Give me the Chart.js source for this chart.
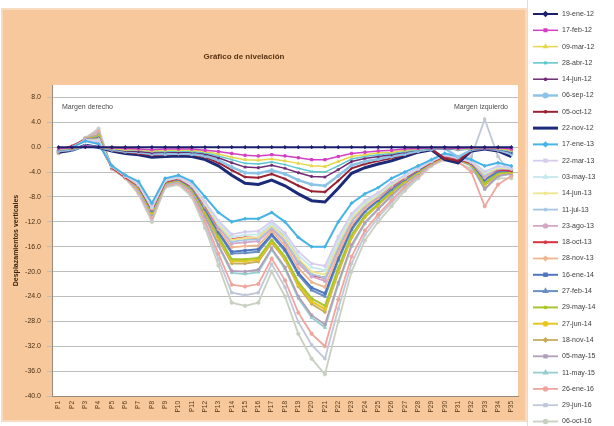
<!DOCTYPE html>
<html>
<head>
<meta charset="utf-8">
<title>Gráfico de nivelación</title>
<script src="https://cdn.jsdelivr.net/npm/chart.js@4.4.1/dist/chart.umd.min.js"></script>
<style>
  html, body { margin: 0; padding: 0; background: #fff; }
  #wrap { width: 614px; height: 426px; }
</style>
</head>
<body>
<div id="wrap"><canvas id="grafico" width="614" height="426"></canvas></div>
<script>
'use strict';

// puntos de nivelación (eje X)
let puntos = ['P1', 'P2', 'P3', 'P4', 'P5', 'P6', 'P7', 'P8', 'P9', 'P10',
  'P11', 'P12', 'P13', 'P14', 'P15', 'P16', 'P17', 'P18', 'P19', 'P20',
  'P21', 'P22', 'P23', 'P24', 'P25', 'P26', 'P27', 'P28', 'P29', 'P30',
  'P31', 'P32', 'P33', 'P34', 'P35'];

let fechas = ['19-ene-12', '17-feb-12', '09-mar-12', '28-abr-12', '14-jun-12', '06-sep-12',
  '05-oct-12', '22-nov-12', '17-ene-13', '22-mar-13', '03-may-13', '14-jun-13', '11-jul-13',
  '23-ago-13', '18-oct-13', '28-nov-13', '16-ene-14', '27-feb-14', '29-may-14', '27-jun-14',
  '18-nov-14', '05-may-15', '11-may-15', '26-ene-16', '29-jun-16', '06-oct-16'];

let yTicks = [8, 4, 0, -4, -8, -12, -16, -20, -24, -28, -32, -36, -40];

// lecturas en mm, una lista por campaña
let d19ene12 = [0, 0, 0, 0, 0, 0, 0, 0, 0, 0, 0, 0, 0, 0, 0, 0, 0, 0, 0, 0, 0, 0, 0, 0, 0, 0, 0, 0, 0, 0, 0, 0, 0, 0, 0];
let d17feb12 = [-0.2, -0.1, 0.1, 0, -0.1, -0.2, -0.3, -0.4, -0.3, -0.3, -0.3, -0.5, -0.7, -1, -1.3, -1.4, -1.2, -1.4, -1.7, -2, -2, -1.5, -1, -0.8, -0.6, -0.5, -0.3, -0.2, -0.1, -0.1, -0.2, -0.1, -0.1, -0.1, -0.3];
let d09mar12 = [-0.3, -0.2, 0.1, 0, -0.2, -0.4, -0.4, -0.6, -0.5, -0.5, -0.5, -0.7, -1.1, -1.6, -2, -2.1, -1.9, -2.2, -2.6, -3, -3.1, -2.3, -1.5, -1.2, -0.9, -0.8, -0.5, -0.3, -0.1, -0.1, -0.3, -0.2, -0.1, -0.2, -0.5];
let d28abr12 = [-0.4, -0.2, 0.1, 0, -0.3, -0.5, -0.5, -0.7, -0.7, -0.6, -0.7, -0.9, -1.4, -2, -2.6, -2.7, -2.4, -2.8, -3.4, -3.9, -4, -3, -1.9, -1.5, -1.2, -1, -0.7, -0.4, -0.2, -0.1, -0.4, -0.3, -0.1, -0.3, -0.7];
let d14jun12 = [-0.4, -0.3, 0.2, 0, -0.3, -0.6, -0.7, -0.9, -0.8, -0.8, -0.8, -1.1, -1.7, -2.5, -3.2, -3.3, -2.9, -3.4, -4.1, -4.7, -4.8, -3.6, -2.3, -1.8, -1.5, -1.2, -0.8, -0.4, -0.2, -0.2, -0.4, -0.3, -0.2, -0.3, -0.8];
let d06sep12 = [-0.6, -0.4, 0.2, 0, -0.4, -0.7, -0.8, -1.1, -1.1, -1, -1.1, -1.4, -2.1, -3.2, -4.1, -4.2, -3.7, -4.3, -5.3, -6, -6.2, -4.6, -2.9, -2.3, -1.9, -1.5, -1.1, -0.6, -0.3, -0.2, -1.6, -0.4, -0.2, -0.4, -1.1];
let d05oct12 = [-0.7, -0.4, 0.2, 0, -0.5, -0.8, -1, -1.3, -1.2, -1.1, -1.2, -1.6, -2.5, -3.7, -4.8, -4.9, -4.3, -5.1, -6.2, -7.1, -7.2, -5.4, -3.4, -2.7, -2.2, -1.8, -1.2, -0.7, -0.3, -1.8, -2.2, -0.5, -0.2, -0.5, -1.2];
let d22nov12 = [-0.8, -0.5, 0.3, 0, -0.6, -1, -1.2, -1.6, -1.5, -1.4, -1.5, -2, -3, -4.5, -5.8, -6, -5.3, -6.2, -7.5, -8.6, -8.8, -6.6, -4.2, -3.3, -2.7, -2.2, -1.5, -0.8, -0.4, -2, -2.5, -0.6, -0.3, -0.6, -1.5];
let d17ene13 = [-0.5, 0, 1, 0.5, -3, -4.5, -5.5, -9, -5, -4.5, -5.5, -8, -10.5, -12, -11.5, -11.5, -10.5, -12, -14.5, -16, -16, -12, -9, -7.5, -6.5, -5, -4, -3, -2, -1, -1.5, -2, -3, -2.5, -3];
let d22mar13 = [-0.6, 0, 1.1, 0.9, -3.1, -4.6, -5.8, -9.5, -5.2, -4.7, -5.9, -8.8, -11.8, -14, -13.6, -13.5, -11.9, -13.8, -16.8, -18.7, -19.1, -14.4, -10.7, -8.6, -7.3, -5.7, -4.5, -3.3, -2.2, -1.2, -1.7, -2.2, -3.9, -3, -3.3];
let d03may13 = [-0.6, 0, 1.1, 1, -3.1, -4.6, -5.9, -9.6, -5.3, -4.8, -6, -8.9, -12.1, -14.4, -14.1, -14, -12.3, -14.2, -17.4, -19.3, -19.8, -15, -11, -8.9, -7.5, -5.8, -4.6, -3.4, -2.2, -1.2, -1.7, -2.3, -4.1, -3.1, -3.4];
let d14jun13 = [-0.6, 0, 1.1, 1.1, -3.1, -4.6, -5.9, -9.7, -5.3, -4.8, -6.1, -9.1, -12.4, -14.9, -14.6, -14.5, -12.6, -14.6, -17.9, -20, -20.5, -15.5, -11.4, -9.2, -7.7, -6, -4.7, -3.4, -2.2, -1.2, -1.7, -2.3, -4.3, -3.3, -3.4];
let d11jul13 = [-0.6, 0, 1.1, 1.1, -3.1, -4.6, -6, -9.7, -5.4, -4.9, -6.1, -9.2, -12.6, -15.2, -14.9, -14.8, -12.8, -14.9, -18.3, -20.4, -21, -15.9, -11.7, -9.3, -7.8, -6.1, -4.7, -3.5, -2.2, -1.2, -1.7, -2.4, -4.5, -3.4, -3.5];
let d23ago13 = [-0.6, 0, 1.1, 1.2, -3.1, -4.6, -6.1, -9.8, -5.4, -4.9, -6.2, -9.3, -12.8, -15.5, -15.3, -15.1, -13.1, -15.2, -18.7, -20.8, -21.5, -16.3, -11.9, -9.5, -8, -6.2, -4.8, -3.5, -2.3, -1.3, -1.8, -2.4, -4.6, -3.4, -3.5];
let d18oct13 = [-0.5, 0.2, 1.2, 0.8, -3.3, -4.8, -6.2, -9.9, -5.6, -5, -6.3, -9.4, -12.9, -14.8, -14.5, -14.6, -12.5, -14.4, -18, -20.6, -21, -16.2, -11.8, -9.4, -7.9, -6.3, -4.9, -3.6, -2.4, -1.4, -1.9, -2.6, -4.4, -3.6, -3.8];
let d28nov13 = [-0.7, 0, 1.2, 1.3, -3.2, -4.7, -6.1, -10, -5.5, -5, -6.3, -9.6, -13.2, -16.1, -15.9, -15.8, -13.5, -15.8, -19.4, -21.7, -22.5, -17.1, -12.5, -9.9, -8.2, -6.4, -5, -3.6, -2.3, -1.3, -1.8, -2.5, -4.9, -3.6, -3.6];
let d16ene14 = [-0.7, 0, 1.2, 1.4, -3.2, -4.7, -6.2, -10.1, -5.5, -5.1, -6.4, -9.8, -13.6, -16.8, -16.6, -16.4, -14, -16.4, -20.2, -22.6, -23.5, -17.9, -13, -10.2, -8.5, -6.6, -5.1, -3.7, -2.4, -1.4, -1.9, -2.5, -5.2, -3.8, -3.7];
let d27feb14 = [-0.7, 0, 1.2, 1.5, -3.2, -4.7, -6.3, -10.2, -5.6, -5.1, -6.5, -10, -13.8, -17.1, -17, -16.8, -14.2, -16.7, -20.5, -23, -24, -18.2, -13.3, -10.4, -8.6, -6.8, -5.2, -3.8, -2.4, -1.4, -1.9, -2.6, -5.3, -3.9, -3.8];
let d29may14 = [-0.7, 0, 1.2, 1.7, -3.2, -4.7, -6.4, -10.4, -5.7, -5.2, -6.7, -10.3, -14.4, -18, -18, -17.8, -14.9, -17.6, -21.7, -24.3, -25.5, -19.4, -14.1, -11, -9.1, -7.1, -5.4, -3.9, -2.5, -1.5, -2, -2.7, -5.8, -4.1, -3.9];
let d27jun14 = [-0.7, 0, 1.2, 1.7, -3.2, -4.7, -6.5, -10.5, -5.7, -5.2, -6.7, -10.4, -14.6, -18.3, -18.3, -18.1, -15.1, -17.9, -22.1, -24.8, -26, -19.8, -14.4, -11.2, -9.2, -7.2, -5.5, -4, -2.5, -1.5, -2, -2.7, -5.9, -4.2, -4];
let d18nov14 = [-0.8, 0, 1.3, 1.8, -3.3, -4.8, -6.5, -10.5, -5.8, -5.3, -6.8, -10.6, -14.9, -18.7, -18.7, -18.4, -15.4, -18.1, -22.4, -25.2, -26.5, -20.2, -14.6, -11.3, -9.3, -7.3, -5.5, -4, -2.5, -1.5, -2, -2.8, -6.1, -4.3, -4];
let d05may15 = [-0.8, 0, 1.3, 2, -3.3, -4.8, -6.7, -10.8, -5.9, -5.4, -7, -11.1, -15.7, -19.9, -20, -19.7, -16.3, -19.3, -24, -27, -28.5, -21.8, -15.7, -12.1, -9.9, -7.7, -5.8, -4.2, -2.6, -1.6, -2.1, -2.9, -6.7, -4.6, -4.2];
let d11may15 = [-0.8, 0, 1.3, 2.1, -3.3, -4.8, -6.8, -10.9, -6, -5.5, -7.1, -11.2, -15.9, -20.2, -20.4, -20.1, -16.5, -19.6, -24.3, -27.4, -29, -22.1, -16, -12.3, -10, -7.9, -5.9, -4.3, -2.6, -1.6, -2.1, -3, -6.8, -4.7, -4.3];
let d26ene16 = [-0.9, 0, 1.4, 2.5, -3.4, -4.9, -7.1, -11.3, -6.2, -5.7, -7.5, -11.9, -17.1, -22.1, -22.4, -22, -17.9, -21.4, -26.6, -30, -32, -24.5, -17.6, -13.4, -10.8, -8.5, -6.3, -4.6, -2.8, -1.8, -2.3, -4, -9.5, -6, -4.6];
let d29jun16 = [-0.9, 0, 1.4, 2.7, -3.4, -4.9, -7.3, -11.6, -6.3, -5.8, -7.7, -12.4, -18, -23.4, -23.8, -23.4, -18.8, -22.5, -28.1, -31.8, -34, -26, -18.7, -14.1, -11.3, -8.9, -6.6, -4.8, -2.9, -1.9, -2.4, -1.5, 4.5, -1.5, -4.5];
let d06oct16 = [-1, 0, 1.5, 3, -3.5, -5, -7.5, -12, -6.5, -6, -8, -13, -19, -25, -25.5, -25, -20, -24, -30, -34, -36.5, -28, -20, -15, -12, -9.5, -7, -5, -3, -2, -2.5, -3.5, -6, -5, -5];

let lecturas = [d19ene12, d17feb12, d09mar12, d28abr12, d14jun12, d06sep12, d05oct12, d22nov12,
  d17ene13, d22mar13, d03may13, d14jun13, d11jul13, d23ago13, d18oct13, d28nov13,
  d16ene14, d27feb14, d29may14, d27jun14, d18nov14, d05may15, d11may15, d26ene16, d29jun16, d06oct16];

// estilo de cada serie
let colores = ['#1d1f6e', '#d23fc2', '#e6d64a', '#5cc6d0', '#6e2a72', '#8cc4e8', '#9a2232', '#1c2a7a',
  '#46b4e6', '#d6cdef', '#c4e8ee', '#efe68c', '#a6c6e8', '#d6a6c6', '#d8323e', '#efb68e',
  '#4f77c0', '#6a90c2', '#a6c62e', '#e6c620', '#c6ae5e', '#b09fb8', '#96cfd0', '#efa69e', '#bfc7d8', '#c8d0bf'];
let marcadores = ['rectRot', 'rect', 'triangle', 'crossRot', 'star', 'circle', 'cross', false,
  'rectRot', 'rect', 'triangle', 'crossRot', 'star', 'circle', 'cross', 'rectRot',
  'rect', 'triangle', 'crossRot', 'circle', 'rectRot', 'rect', 'triangle', 'circle', 'rect', 'circle'];
let grosores = [2, 1.5, 1.5, 1.5, 1.5, 2.5, 2, 3, 2, 1.8, 1.8, 1.8, 1.8, 1.8, 2, 1.8, 2, 2, 2, 2, 1.8, 1.8, 1.8, 1.8, 1.8, 1.8];

let naranja = '#f6c89c';

let datasets = [];
for (let i = 0; i < fechas.length; i++) {
  datasets.push({
    label: fechas[i],
    data: lecturas[i],
    borderColor: colores[i],
    backgroundColor: colores[i],
    borderWidth: grosores[i],
    pointStyle: marcadores[i],
    pointRadius: marcadores[i] ? 1.6 : 0,
    pointBorderWidth: 1,
    tension: 0
  });
}

// fondo naranja, área de trazado blanca, título, rótulos y leyenda
let decorado = {
  id: 'decorado',
  beforeDraw(chart) {
    let ctx = chart.ctx;
    let area = chart.chartArea;
    ctx.save();
    ctx.fillStyle = '#ffffff';
    ctx.fillRect(0, 0, chart.width, chart.height);
    ctx.fillStyle = naranja;
    ctx.fillRect(1, 8, 526, 414);
    ctx.strokeStyle = '#f9dcc0';
    ctx.lineWidth = 2;
    ctx.strokeRect(2, 9, 524, 412);
    ctx.fillStyle = '#ffffff';
    ctx.fillRect(area.left, area.top, area.right - area.left, area.bottom - area.top);
    ctx.restore();
  },
  afterDraw(chart) {
    let ctx = chart.ctx;
    ctx.save();
    ctx.fillStyle = '#5a3412';
    ctx.font = 'bold 8px "Liberation Sans", Arial, sans-serif';
    ctx.textAlign = 'center';
    ctx.textBaseline = 'middle';
    ctx.fillText('Gráfico de nivelación', 244, 57);

    ctx.fillStyle = '#4a4a4a';
    ctx.font = '7px "Liberation Sans", Arial, sans-serif';
    ctx.textAlign = 'left';
    ctx.fillText('Margen derecho', 62, 107);
    ctx.textAlign = 'right';
    ctx.fillText('Margen izquierdo', 508, 107);

    // leyenda a la derecha
    ctx.strokeStyle = '#dedede';
    ctx.lineWidth = 1;
    ctx.beginPath();
    ctx.moveTo(527.5, 0);
    ctx.lineTo(527.5, 426);
    ctx.stroke();
    for (let i = 0; i < fechas.length; i++) {
      let y = 14 + i * 16.3;
      ctx.strokeStyle = colores[i];
      ctx.lineWidth = grosores[i];
      ctx.beginPath();
      ctx.moveTo(533, y);
      ctx.lineTo(558, y);
      ctx.stroke();
      if (marcadores[i]) {
        ctx.fillStyle = colores[i];
        Chart.helpers.drawPoint(ctx, { pointStyle: marcadores[i], radius: 1.8, rotation: 0, borderWidth: 1 }, 545.5, y);
      }
      ctx.fillStyle = '#3c3c3c';
      ctx.font = '7px "Liberation Sans", Arial, sans-serif';
      ctx.textAlign = 'left';
      ctx.textBaseline = 'middle';
      ctx.fillText(fechas[i], 562, y);
    }
    ctx.restore();
  }
};

let ctx = document.getElementById('grafico').getContext('2d');
let grafico = new Chart(ctx, {
  type: 'line',
  data: {
    labels: puntos,
    datasets: datasets
  },
  options: {
    responsive: false,
    devicePixelRatio: 1,
    animation: false,
    layout: { padding: { top: 85, right: 96, bottom: 0, left: 0 } },
    plugins: {
      legend: { display: false },
      tooltip: { enabled: false }
    },
    scales: {
      x: {
        offset: true,
        grid: { display: false, drawTicks: true, tickLength: 3 },
        border: { color: '#9a8a7a', width: 1 },
        ticks: {
          autoSkip: false,
          minRotation: 90,
          maxRotation: 90,
          padding: 2,
          color: '#5a3a1a',
          font: { family: '"Liberation Sans", Arial, sans-serif', size: 6.5 }
        },
        afterFit(scale) { scale.height = 30; }
      },
      y: {
        min: -40,
        max: 10,
        afterBuildTicks(scale) {
          scale.ticks = yTicks.map(v => ({ value: v }));
        },
        grid: { color: '#bdbdbd', lineWidth: 1, tickLength: 5 },
        border: { color: '#9a8a7a', width: 1 },
        ticks: {
          padding: 6,
          color: '#4a2e12',
          font: { family: '"Liberation Sans", Arial, sans-serif', size: 7 },
          callback: v => v.toFixed(1)
        },
        title: {
          display: true,
          text: 'Desplazamientos verticales',
          color: '#3a2410',
          font: { family: '"Liberation Sans", Arial, sans-serif', size: 7, weight: 'bold' },
          padding: { top: 12, bottom: 0 }
        },
        afterFit(scale) { scale.width = 52; }
      }
    }
  },
  plugins: [decorado]
});
</script>
</body>
</html>
